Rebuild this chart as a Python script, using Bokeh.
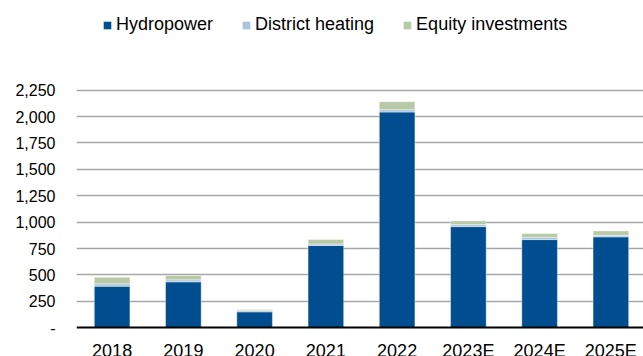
from bokeh.plotting import figure
from bokeh.models import Range1d, FixedTicker, NumeralTickFormatter, Legend, LegendItem
from bokeh.embed import file_html
from bokeh.resources import INLINE

categories = ["2018", "2019", "2020", "2021", "2022", "2023E", "2024E", "2025E"]
hydropower = [394, 435, 151, 779, 2043, 958, 835, 861]
district_heating = [22, 19, 13, 15, 22, 19, 22, 15]
equity_investments = [63, 41, 9, 41, 76, 35, 35, 41]
y_ticks = [0, 250, 500, 750, 1000, 1250, 1500, 1750, 2000, 2250]

series_names = ["Hydropower", "District heating", "Equity investments"]
colors = ["#004E8F", "#AAC4DC", "#B7C9A6"]

xs = list(range(len(categories)))
data = dict(x=xs, hydro=hydropower, dh=district_heating, eq=equity_investments)

p = figure(width=643, height=356, output_backend="svg", toolbar_location=None,
           x_range=Range1d(-0.5, 7.458), y_range=Range1d(-272, 3099),
           min_border_left=76, min_border_right=0, min_border_top=0, min_border_bottom=0)
p.outline_line_color = None
p.background_fill_color = "white"
p.border_fill_color = "white"

renderers = p.vbar_stack(["hydro", "dh", "eq"], x="x", width=0.5, source=data,
                         color=colors, line_color="white", line_width=0.4)

FONT = "Liberation Sans"

p.xgrid.visible = False
p.ygrid.ticker = FixedTicker(ticks=y_ticks[1:])
p.ygrid.grid_line_color = "#A6A6A6"
p.ygrid.grid_line_width = 1.3
p.ygrid.level = "underlay"

p.yaxis.ticker = FixedTicker(ticks=y_ticks)
p.yaxis.formatter = NumeralTickFormatter(format="0,0")
p.yaxis.major_label_overrides = {0: "-"}
p.yaxis.axis_line_color = None
p.yaxis.major_tick_line_color = None
p.yaxis.minor_tick_line_color = None
p.yaxis.major_tick_out = 0
p.yaxis.major_tick_in = 0
p.yaxis.major_label_text_font = FONT
p.yaxis.major_label_text_font_size = "16px"
p.yaxis.major_label_text_color = "#000000"
p.yaxis.major_label_standoff = 21

p.xaxis.fixed_location = 0
p.xaxis.ticker = FixedTicker(ticks=xs)
p.xaxis.major_label_overrides = {i: c for i, c in enumerate(categories)}
p.xaxis.axis_line_color = "#000000"
p.xaxis.axis_line_width = 2
p.xaxis.major_tick_line_color = None
p.xaxis.minor_tick_line_color = None
p.xaxis.major_tick_out = 0
p.xaxis.major_tick_in = 0
p.xaxis.major_label_text_font = FONT
p.xaxis.major_label_text_font_size = "18px"
p.xaxis.major_label_text_color = "#000000"
p.xaxis.major_label_standoff = 13

legend = Legend(items=[LegendItem(label=n, renderers=[r]) for n, r in zip(series_names, renderers)],
                orientation="horizontal", location=(26, 321),
                glyph_width=10, glyph_height=10, label_standoff=4, spacing=28,
                padding=0, margin=0, border_line_color=None, background_fill_alpha=0,
                label_text_font=FONT, label_text_font_size="18px", label_text_color="#000000")
p.add_layout(legend, "center")

open("out.html", "w").write(file_html(p, INLINE))
